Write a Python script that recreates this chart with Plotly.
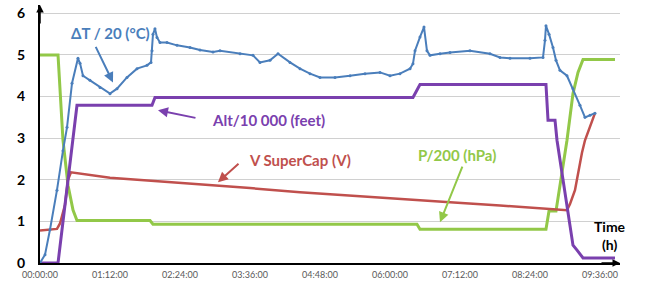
import plotly.graph_objects as go

# Time in hours
dT_t = [0.00, 0.086, 0.171, 0.291, 0.394, 0.463, 0.549, 0.651, 0.686, 0.737, 0.857, 1.029, 1.2, 1.32,
        1.491, 1.663, 1.834, 1.903, 1.92, 1.937, 1.971, 2.006, 2.057, 2.177, 2.349, 2.571, 2.743, 2.966,
        3.086, 3.429, 3.651, 3.771, 3.943, 4.08, 4.286, 4.457, 4.629, 4.8, 5.057, 5.314, 5.571, 5.829,
        6.0, 6.171, 6.343, 6.394, 6.429, 6.514, 6.583, 6.634, 6.686, 6.857, 7.029, 7.371, 7.714, 7.886,
        8.057, 8.4, 8.623, 8.657, 8.674, 8.726, 8.794, 8.846, 8.914, 9.034, 9.137, 9.257, 9.343, 9.429, 9.514]
dT_v = [0.0, 0.2, 0.8, 1.75, 2.7, 3.26, 4.32, 4.92, 4.8, 4.5, 4.39, 4.22, 4.07, 4.19,
        4.46, 4.67, 4.75, 4.82, 5.1, 5.5, 5.63, 5.42, 5.3, 5.3, 5.23, 5.18, 5.12, 5.07,
        5.1, 5.03, 4.99, 4.82, 4.87, 5.03, 4.82, 4.67, 4.55, 4.46, 4.46, 4.5, 4.55, 4.58,
        4.5, 4.55, 4.67, 4.79, 5.1, 5.43, 5.67, 5.1, 4.99, 5.03, 5.06, 5.1, 5.03, 4.94,
        4.92, 4.92, 4.94, 5.35, 5.7, 5.5, 5.18, 4.87, 4.63, 4.5, 4.19, 3.79, 3.5, 3.55, 3.6]

alt_t = [0.0, 0.309, 0.634, 1.92, 1.971, 6.394, 6.514, 8.674, 8.709, 8.829, 8.863, 9.137, 9.206, 9.309, 9.857]
alt_v = [0.0, 0.0, 3.79, 3.79, 3.98, 3.98, 4.29, 4.29, 3.43, 3.43, 2.95, 0.43, 0.31, 0.12, 0.12]

v_t = [0.0, 0.291, 0.343, 0.429, 0.48, 0.531, 1.2, 2.4, 3.6, 4.457, 6.171, 7.029, 7.886, 8.571,
       9.034, 9.086, 9.171, 9.291, 9.343, 9.514]
v_v = [0.78, 0.82, 0.95, 1.4, 2.0, 2.18, 2.05, 1.93, 1.8, 1.70, 1.55, 1.46, 1.38, 1.32,
       1.27, 1.42, 1.75, 2.65, 2.95, 3.6]

p_t = [0.0, 0.309, 0.394, 0.48, 0.566, 0.634, 1.886, 1.937, 6.463, 6.514, 8.674, 8.726, 8.846,
       9.034, 9.137, 9.223, 9.309, 9.857]
p_v = [5.0, 5.0, 2.95, 1.87, 1.27, 1.02, 1.02, 0.93, 0.93, 0.81, 0.81, 1.25, 1.25,
       2.95, 4.07, 4.58, 4.89, 4.89]

x_tick_vals = [0, 1.2, 2.4, 3.6, 4.8, 6.0, 7.2, 8.4, 9.6]
x_tick_text = ["00:00:00", "01:12:00", "02:24:00", "03:36:00", "04:48:00",
               "06:00:00", "07:12:00", "08:24:00", "09:36:00"]
y_tick_vals = [0, 1, 2, 3, 4, 5, 6]

BLUE = "#4A7EBB"
RED = "#C0504D"
GREEN = "#92C848"
PURPLE = "#7A40AE"
FONT = "Lato"

fig = go.Figure()
fig.add_trace(go.Scatter(x=p_t, y=p_v, mode="lines", line=dict(color=GREEN, width=3), showlegend=False))
fig.add_trace(go.Scatter(x=v_t, y=v_v, mode="lines", line=dict(color=RED, width=2.5), showlegend=False))
fig.add_trace(go.Scatter(x=alt_t, y=alt_v, mode="lines", line=dict(color=PURPLE, width=3), showlegend=False))
fig.add_trace(go.Scatter(x=dT_t, y=dT_v, mode="lines+markers", line=dict(color=BLUE, width=2),
                         marker=dict(size=3, color=BLUE), showlegend=False))

labels = [
    ("ΔT / 20 (°C)", 1.2, 5.52, BLUE, 0.943, 5.23, 1.251, 4.34),
    ("Alt/10 000 (feet)", 3.909, 3.43, PURPLE, 2.691, 3.48, 2.023, 3.67),
    ("V SuperCap (V)", 4.457, 2.47, RED, 3.429, 2.42, 3.051, 1.94),
    ("P/200 (hPa)", 7.149, 2.59, GREEN, 7.251, 2.35, 6.857, 0.98),
]
for txt, tx, ty, col, x0, y0, x1, y1 in labels:
    fig.add_annotation(x=tx, y=ty, xref="x", yref="y", text=txt, showarrow=False,
                       font=dict(family=FONT, size=15, color=col, weight="bold"))
    fig.add_annotation(x=x1, y=y1, ax=x0, ay=y0, xref="x", yref="y", axref="x", ayref="y",
                       text="", showarrow=True, arrowhead=2, arrowsize=1, arrowwidth=2, arrowcolor=col)

fig.add_annotation(x=9.771, y=0.65, xref="x", yref="y", text="<b>Time<br>(h)</b>", showarrow=False,
                   font=dict(family=FONT, size=14, color="black"))

# axis arrows
fig.add_annotation(x=0, y=6.2, xref="x", yref="y", ax=0, ay=20, text="", showarrow=True,
                   arrowhead=2, arrowsize=1, arrowwidth=1.5, arrowcolor="black")
fig.add_annotation(x=9.943, y=0, xref="x", yref="y", ax=-20, ay=0, text="", showarrow=True,
                   arrowhead=2, arrowsize=1, arrowwidth=1.5, arrowcolor="black")

fig.update_xaxes(range=[0, 9.943], tickvals=x_tick_vals, ticktext=x_tick_text,
                 tickfont=dict(family=FONT, size=9, color="#595959"),
                 showgrid=False, zeroline=False, showline=True, linecolor="black", linewidth=1.5,
                 ticks="", ticklabelstandoff=2, automargin=False)
fig.update_yaxes(range=[0, 6.2], tickvals=y_tick_vals,
                 tickfont=dict(family=FONT, size=14, color="black", weight="bold"),
                 showgrid=True, gridcolor="#D0D0D0", gridwidth=1, zeroline=False,
                 showline=True, linecolor="black", linewidth=2, ticks="", ticklabelstandoff=10,
                 automargin=False)

fig.update_layout(template="none", width=645, height=287, margin=dict(l=40, r=25, t=5, b=24),
                  paper_bgcolor="white", plot_bgcolor="white", font=dict(family=FONT))

fig.write_html("out.html", config={"displayModeBar": False},
               post_script="document.body.style.margin='0';document.body.style.overflow='hidden';")
